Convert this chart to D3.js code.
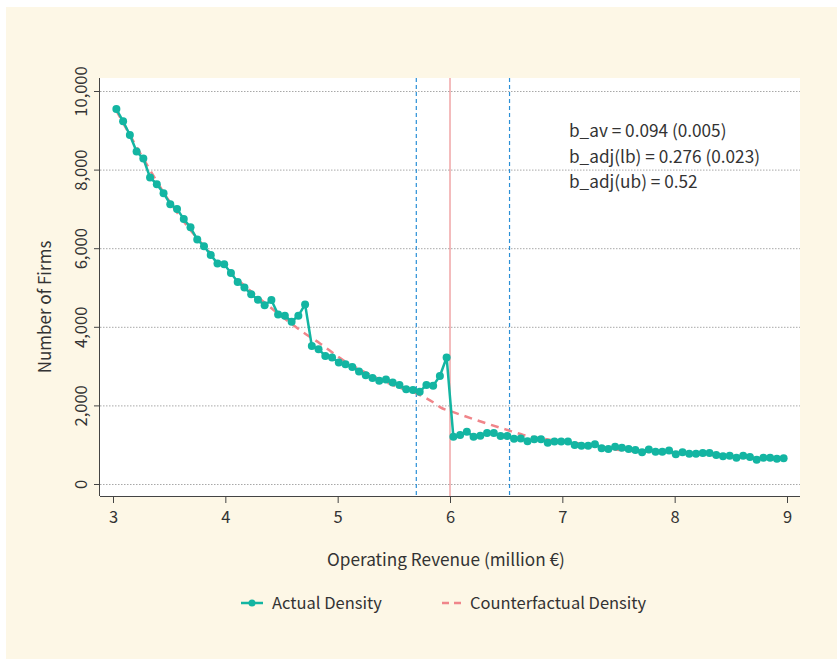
<!DOCTYPE html>
<html>
<head>
<meta charset="utf-8">
<script src="https://cdn.jsdelivr.net/npm/d3@7/dist/d3.min.js"></script>
<style>
  html, body { margin: 0; padding: 0; background: #ffffff; }
  svg { display: block; }
  text { font-family: "Noto Sans CJK KR", "Noto Sans", sans-serif; fill: #333333; }
</style>
</head>
<body>
<svg id="chart" width="837" height="659"></svg>
<script>
// ---- data ----
const binCenters = [
  3.03,3.09,3.15,3.21,3.27,3.33,3.39,3.45,3.51,3.57,
  3.63,3.69,3.75,3.81,3.87,3.93,3.99,4.05,4.11,4.17,
  4.23,4.29,4.35,4.41,4.47,4.53,4.59,4.65,4.71,4.77,
  4.83,4.89,4.95,5.01,5.07,5.13,5.19,5.25,5.31,5.37,
  5.43,5.49,5.55,5.61,5.67,5.73,5.79,5.85,5.91,5.97,
  6.03,6.09,6.15,6.21,6.27,6.33,6.39,6.45,6.51,6.57,
  6.63,6.69,6.75,6.81,6.87,6.93,6.99,7.05,7.11,7.17,
  7.23,7.29,7.35,7.41,7.47,7.53,7.59,7.65,7.71,7.77,
  7.83,7.89,7.95,8.01,8.07,8.13,8.19,8.25,8.31,8.37,
  8.43,8.49,8.55,8.61,8.67,8.73,8.79,8.85,8.91,8.97
];
const actualDensity = [
  9540,9230,8880,8460,8280,7800,7630,7400,7120,7000,
  6740,6530,6220,6050,5830,5610,5590,5370,5140,5000,
  4830,4690,4550,4680,4310,4280,4130,4280,4570,3510,
  3430,3260,3220,3090,3050,2980,2860,2770,2700,2630,
  2660,2580,2520,2410,2390,2350,2520,2500,2750,3220,
  1200,1250,1330,1200,1230,1300,1300,1220,1220,1150,
  1160,1090,1140,1140,1050,1080,1080,1080,990,975,
  975,1010,910,890,950,920,890,865,810,880,
  820,820,850,760,810,770,770,790,790,740,
  705,720,670,720,690,620,670,670,640,655
];
const cfX = [3.03,3.25,3.5,3.75,4.0,4.25,4.43,4.665,4.843,5.05,5.258,5.495,5.703,5.85,5.911,6.03,6.207,6.504,6.652,6.95,7.247,7.485,8.0,8.5,8.97];
const cfY = [9500,8380,7200,6250,5500,4850,4430,3916,3576,3149,2825,2511,2299,2080,1957,1829,1652,1380,1250,1100,1000,870,790,700,630];
const xTicks = [3,4,5,6,7,8,9];
const yTicks = [0,2000,4000,6000,8000,10000];
const threshold = 6.0;
const bandLower = 5.7;
const bandUpper = 6.53;
const annotations = ["b_av = 0.094 (0.005)", "b_adj(lb) = 0.276 (0.023)", "b_adj(ub) = 0.52"];
const seriesNames = ["Actual Density", "Counterfactual Density"];
const xTitle = "Operating Revenue (million €)";
const yTitle = "Number of Firms";

// ---- layout ----
const svg = d3.select("#chart");
const teal = "#13b5a2", pink = "#f0858a", blue = "#2a8fd6";
const plot = {left: 100, right: 800, top: 78, bottom: 496};

svg.append("rect").attr("x", 6).attr("y", 7).attr("width", 831).attr("height", 652).attr("fill", "#fdf7e6");
svg.append("rect").attr("x", plot.left).attr("y", plot.top)
  .attr("width", plot.right - plot.left).attr("height", plot.bottom - plot.top).attr("fill", "#ffffff");

const x = d3.scaleLinear().domain([3, 9]).range([113, 787]);
const y = d3.scaleLinear().domain([0, 10000]).range([484, 91]);

// gridlines
svg.append("g").selectAll("line").data(yTicks).join("line")
  .attr("x1", plot.left).attr("x2", plot.right)
  .attr("y1", d => y(d) + 0.5).attr("y2", d => y(d) + 0.5)
  .attr("stroke", "#a8a8a8").attr("stroke-width", 1).attr("stroke-dasharray", "1.5,1.5");

// vertical reference lines
svg.append("line").attr("x1", x(bandLower)).attr("x2", x(bandLower)).attr("y1", plot.top).attr("y2", plot.bottom)
  .attr("stroke", blue).attr("stroke-width", 1.2).attr("stroke-dasharray", "4,3");
svg.append("line").attr("x1", x(bandUpper)).attr("x2", x(bandUpper)).attr("y1", plot.top).attr("y2", plot.bottom)
  .attr("stroke", blue).attr("stroke-width", 1.2).attr("stroke-dasharray", "4,3");
svg.append("line").attr("x1", x(threshold)).attr("x2", x(threshold)).attr("y1", plot.top).attr("y2", plot.bottom)
  .attr("stroke", "#e8787a").attr("stroke-width", 1);

// counterfactual
const cfData = cfX.map((v, i) => [v, cfY[i]]);
svg.append("path").datum(cfData)
  .attr("d", d3.line().x(d => x(d[0])).y(d => y(d[1])).curve(d3.curveMonotoneX))
  .attr("fill", "none").attr("stroke", pink).attr("stroke-width", 2.5).attr("stroke-dasharray", "8,6");

// actual
const actData = binCenters.map((v, i) => [v, actualDensity[i]]);
svg.append("path").datum(actData)
  .attr("d", d3.line().x(d => x(d[0])).y(d => y(d[1])))
  .attr("fill", "none").attr("stroke", teal).attr("stroke-width", 2.5);
svg.append("g").selectAll("circle").data(actData).join("circle")
  .attr("cx", d => x(d[0])).attr("cy", d => y(d[1])).attr("r", 4).attr("fill", teal);

// axes
const xAxis = d3.axisBottom(x).tickValues(xTicks).tickSize(7).tickPadding(8).tickFormat(d3.format("d"));
const gx = svg.append("g").attr("transform", `translate(0,${plot.bottom})`).call(xAxis);
gx.select(".domain").attr("d", `M${plot.left},0.5H${plot.right}`).attr("stroke", "#444");
gx.selectAll(".tick line").attr("stroke", "#444");
gx.selectAll(".tick text").attr("font-size", 16.5).attr("fill", "#333").attr("font-family", '"Noto Sans CJK KR", sans-serif');

const yAxis = d3.axisLeft(y).tickValues(yTicks).tickSize(6).tickPadding(0).tickFormat(d3.format(","));
const gy = svg.append("g").attr("transform", `translate(${plot.left},0)`).call(yAxis);
gy.select(".domain").attr("d", `M-0.5,${plot.top}V${plot.bottom}`).attr("stroke", "#444");
gy.selectAll(".tick line").attr("stroke", "#444");
gy.selectAll(".tick text").remove();
gy.selectAll(".tick").append("text")
  .attr("transform", "translate(-19,0) rotate(-90)")
  .attr("text-anchor", "middle").attr("dy", "0.35em")
  .attr("font-size", 16.5).attr("fill", "#333")
  .text(d => d3.format(",")(d));

// axis titles
svg.append("text").attr("x", 446).attr("y", 560).attr("text-anchor", "middle").attr("dy", "0.35em")
  .attr("font-size", 17.2).text(xTitle);
svg.append("text").attr("transform", "translate(45,307) rotate(-90)").attr("text-anchor", "middle").attr("dy", "0.35em")
  .attr("font-size", 17).text(yTitle);

// annotations
svg.append("g").selectAll("text").data(annotations).join("text")
  .attr("x", 569).attr("y", (d, i) => 131 + i * 25.5).attr("dy", "0.35em")
  .attr("font-size", 17.2).text(d => d);

// legend
const lg = svg.append("g");
lg.append("line").attr("x1", 241).attr("x2", 263).attr("y1", 603).attr("y2", 603).attr("stroke", teal).attr("stroke-width", 2.5);
lg.append("circle").attr("cx", 252).attr("cy", 603).attr("r", 3.5).attr("fill", teal);
lg.append("text").attr("x", 272).attr("y", 603).attr("dy", "0.35em").attr("font-size", 16.5).text(seriesNames[0]);
lg.append("line").attr("x1", 442).attr("x2", 464).attr("y1", 603).attr("y2", 603).attr("stroke", pink).attr("stroke-width", 2.5).attr("stroke-dasharray", "7,5");
lg.append("text").attr("x", 470).attr("y", 603).attr("dy", "0.35em").attr("font-size", 16.5).text(seriesNames[1]);
</script>
</body>
</html>
